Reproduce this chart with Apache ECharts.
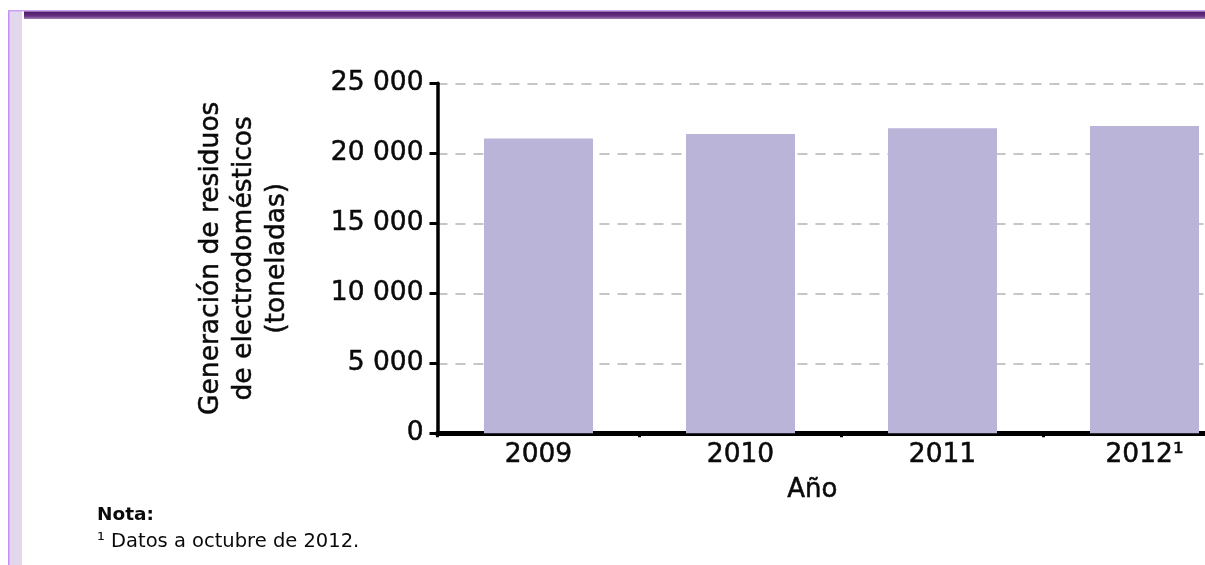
<!DOCTYPE html>
<html>
<head>
<meta charset="utf-8">
<script src="https://cdn.jsdelivr.net/npm/echarts@6/dist/echarts.min.js"></script>
<style>
  html, body { margin: 0; padding: 0; background: #ffffff; }
  #chart { width: 1205px; height: 565px; }
</style>
</head>
<body>
<div id="chart"></div>
<script>
// Generación de residuos de electrodomésticos, toneladas por año
const years = ['2009', '2010', '2011', '2012¹'];
const residuos = [21060, 21380, 21790, 21950];
const yTicks = [0, 5000, 10000, 15000, 20000, 25000];

const FONT = 'DejaVu Sans';
const INK = '#0a0a0a';
const fmtMiles = v => String(v).replace(/\B(?=(\d{3})+(?!\d))/g, ' ');

const chart = echarts.init(document.getElementById('chart'), null, { renderer: 'canvas' });

chart.setOption({
  backgroundColor: '#ffffff',
  animation: false,
  // the plot runs past the right edge of the page
  grid: {
    left: 437.5, width: 808, top: 83.3, bottom: 131.7,
    containLabel: false, outerBoundsMode: 'none'
  },
  xAxis: {
    type: 'category',
    data: years,
    axisLine: { show: true, lineStyle: { color: '#000000', width: 5 } },
    axisTick: { show: true, alignWithLabel: false, length: 4, lineStyle: { color: '#000000', width: 3 } },
    axisLabel: {
      color: INK, fontFamily: FONT, fontSize: 26.5, margin: 8,
      textBorderColor: INK, textBorderWidth: 0.5
    },
    splitLine: { show: false }
  },
  yAxis: {
    type: 'value',
    min: yTicks[0],
    max: yTicks[yTicks.length - 1],
    interval: yTicks[1] - yTicks[0],
    name: 'Generación de residuos\nde electrodomésticos\n(toneladas)',
    nameLocation: 'middle',
    nameGap: 144,
    nameRotate: 90,
    nameTextStyle: {
      color: INK, fontFamily: FONT, fontSize: 26.5, lineHeight: 33, align: 'center',
      textBorderColor: INK, textBorderWidth: 0.5
    },
    axisLine: { show: true, lineStyle: { color: '#000000', width: 3.5 } },
    axisTick: { show: true, length: 8, lineStyle: { color: '#000000', width: 3 } },
    axisLabel: {
      color: INK, fontFamily: FONT, fontSize: 26.5, margin: 14, formatter: fmtMiles,
      textBorderColor: INK, textBorderWidth: 0.5
    },
    splitLine: { show: true, lineStyle: { color: '#c6c6c6', width: 2, type: [10, 8] } }
  },
  series: [{
    type: 'bar',
    data: residuos,
    barWidth: 109,
    itemStyle: { color: '#bab4d9' }
  }],
  graphic: [
    // marco lateral y franja superior
    { type: 'rect', shape: { x: 8, y: 10, width: 14, height: 555 }, style: { fill: '#e2d7ec' }, silent: true },
    { type: 'rect', shape: { x: 8, y: 10, width: 1.5, height: 555 }, style: { fill: '#c48ef4' }, silent: true },
    { type: 'rect', shape: { x: 8, y: 10, width: 1197, height: 1.5 }, style: { fill: '#c9a2f2' }, silent: true },
    {
      type: 'rect', shape: { x: 24, y: 11.5, width: 1181, height: 7.5 }, silent: true,
      style: {
        fill: new echarts.graphic.LinearGradient(0, 0, 0, 1, [
          { offset: 0, color: '#4d1a6b' },
          { offset: 0.6, color: '#64307f' },
          { offset: 1, color: '#a684bd' }
        ])
      }
    },
    // título del eje horizontal
    {
      type: 'text', left: 787, top: 477, silent: true,
      style: { text: 'Año', fill: INK, font: '26px "DejaVu Sans"', stroke: INK, lineWidth: 0.5 }
    },
    // nota al pie
    {
      type: 'text', left: 97, top: 506, silent: true,
      style: { text: 'Nota:', fill: INK, font: 'bold 18.5px "DejaVu Sans"' }
    },
    {
      type: 'text', left: 97, top: 532, silent: true,
      style: { text: '¹ Datos a octubre de 2012.', fill: INK, font: '19.5px "DejaVu Sans"' }
    }
  ]
});
</script>
</body>
</html>
